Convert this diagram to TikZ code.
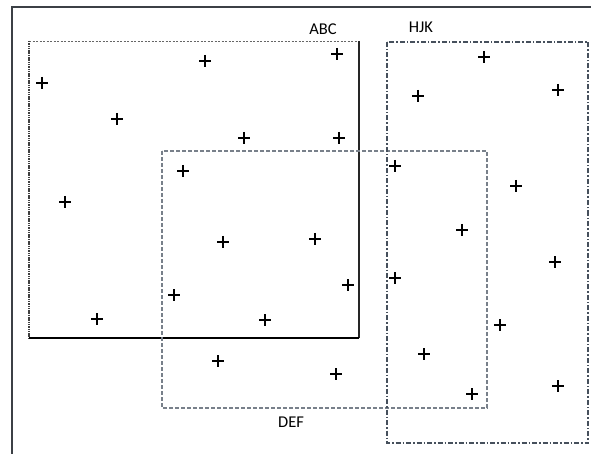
\documentclass[tikz,border=0pt]{standalone}
\usepackage{fontspec}
\setmainfont{Carlito}
\definecolor{defcol}{RGB}{120,128,138}
\definecolor{hjkcol}{RGB}{70,80,92}
\definecolor{framecol}{RGB}{60,64,70}
\begin{document}
\begin{tikzpicture}[x=1pt,y=-1pt,
  frameline/.style={draw=framecol, line width=1.6pt},
  abctop/.style={draw=black!60, line width=0.8pt, dash pattern=on 2pt off 1.5pt},
  abcleft/.style={draw=black!75, line width=1.2pt, dash pattern=on 1.5pt off 0.8pt},
  abcright/.style={draw=black!85, line width=1.5pt},
  abcbottom/.style={draw=black, line width=2.6pt},
  defbox/.style={draw=defcol, line width=1.7pt, dash pattern=on 4pt off 2pt},
  hjkbox/.style={draw=hjkcol, line width=1.6pt, dash pattern=on 5pt off 2pt on 1.5pt off 2pt},
  lbl/.style={font=\fontsize{16.5}{18}\selectfont, inner sep=0pt},
  plusmark/.style={draw=black, line width=1.7pt}]
\useasboundingbox[fill=white] (0,0) rectangle (591,454);
% outer frame
\draw[frameline] (12,454) -- (12,7) -- (591,7);
% ABC
\coordinate (abcTL) at (29,41);
\coordinate (abcTR) at (359,41);
\coordinate (abcBR) at (359,338);
\coordinate (abcBL) at (29,338);
\draw[abctop] (abcTL) -- (abcTR);
\draw[abcleft] (abcTL) -- (abcBL);
\draw[abcright] (abcTR) -- (abcBR);
\draw[abcbottom] (abcBL) -- (abcBR);
\node[lbl] (abc) at (323,29) {ABC};
% DEF
\draw[defbox] (162,151) rectangle (487,408);
\node[lbl] (def) at (291,422) {DEF};
% HJK
\draw[hjkbox] (387,42) rectangle (588,443);
\node[lbl] (hjk) at (421,27) {HJK};
% plus marks
\foreach \px/\py in {42/83, 205/61, 337/54, 117/119, 244/138, 339/138,
  484/57, 418/96, 558/90, 183/171, 395/166, 516/186, 65/202, 462/230,
  223/242, 315/239, 555/262, 174/295, 348/285, 395/278, 97/319, 265/320,
  500/325, 218/361, 336/374, 424/354, 472/394, 558/386}
  \draw[plusmark] (\px-6,\py) -- (\px+6,\py) (\px,\py-6) -- (\px,\py+6);
\end{tikzpicture}
\end{document}
